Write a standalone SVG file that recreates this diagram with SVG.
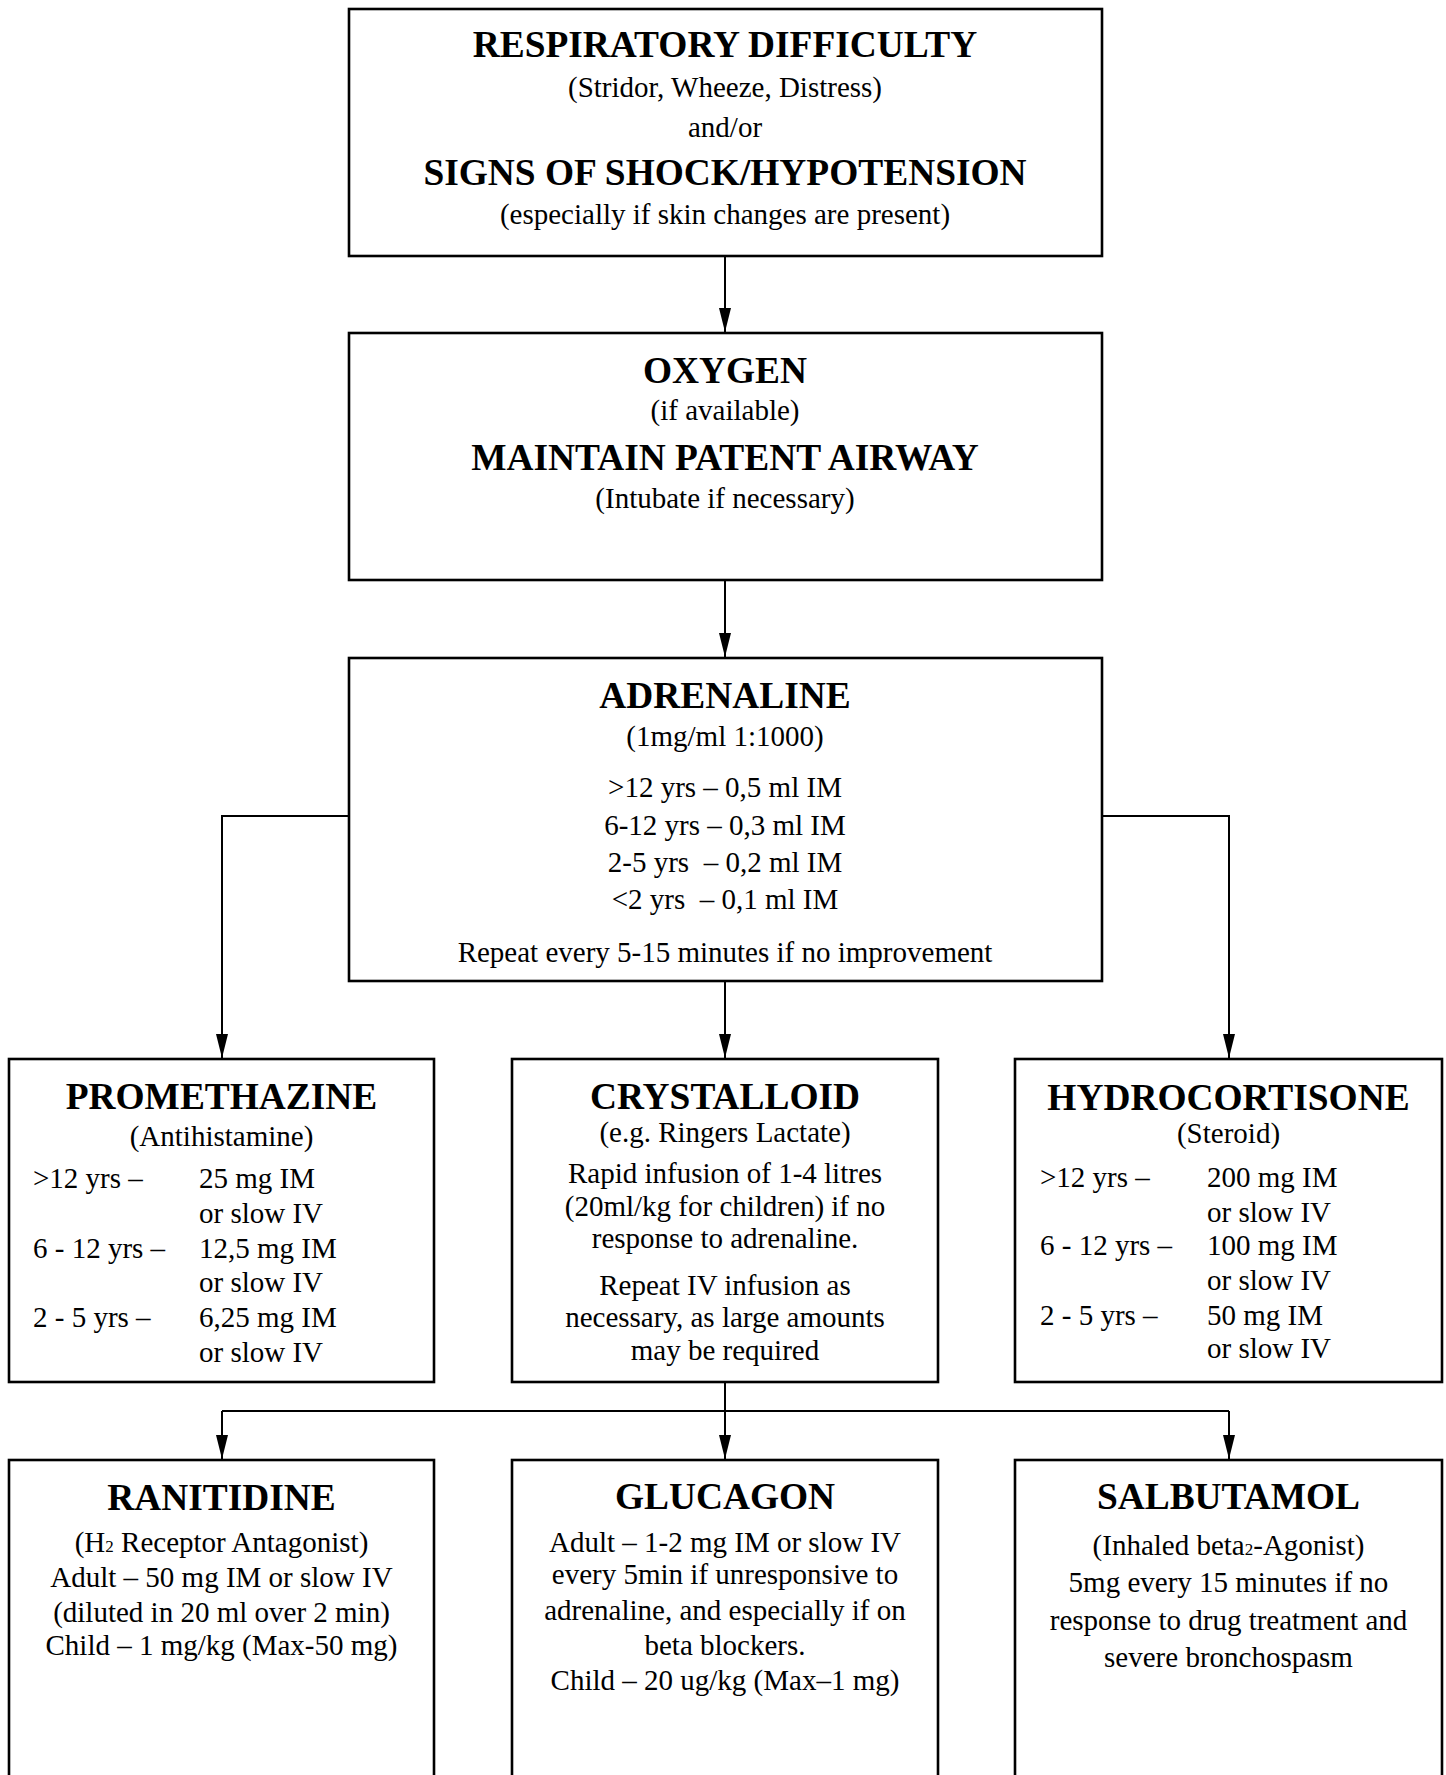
<svg xmlns="http://www.w3.org/2000/svg" width="1446" height="1775" viewBox="0 0 1446 1775">
<style>
.box{fill:#fff;stroke:#000;stroke-width:2.6}
.t{font-family:"Liberation Serif","Times New Roman",serif;font-size:37.4px;font-weight:bold;text-anchor:middle;fill:#000}
.b{font-family:"Liberation Serif","Times New Roman",serif;font-size:29px;fill:#000}
.c{text-anchor:middle}
.conn{fill:none;stroke:#000;stroke-width:2}
.sub{font-size:17px}
</style>
<defs>
<marker id="arr" markerUnits="userSpaceOnUse" viewBox="0 -6 24 12" refX="24" refY="0" markerWidth="24" markerHeight="12" orient="auto">
<path d="M0,-6 L24,0 L0,6 Z" fill="#000"/>
</marker>
</defs>
<rect width="1446" height="1775" fill="#fff"/>
<g id="connectors">
<path class="conn" d="M725,256 V332" marker-end="url(#arr)"/>
<path class="conn" d="M725,580 V657" marker-end="url(#arr)"/>
<path class="conn" d="M349,816 H222 V1058" marker-end="url(#arr)"/>
<path class="conn" d="M725,981 V1058" marker-end="url(#arr)"/>
<path class="conn" d="M1102,816 H1229 V1058" marker-end="url(#arr)"/>
<path class="conn" d="M725,1382 V1459" marker-end="url(#arr)"/>
<path class="conn" d="M222,1411 H1229"/>
<path class="conn" d="M222,1411 V1459" marker-end="url(#arr)"/>
<path class="conn" d="M1229,1411 V1459" marker-end="url(#arr)"/>
</g>
<g id="respiratory">
<rect class="box" x="349" y="9" width="753" height="247"/>
<text class="t" x="725" y="57">RESPIRATORY DIFFICULTY</text>
<text class="b c" x="725" y="97">(Stridor, Wheeze, Distress)</text>
<text class="b c" x="725" y="137">and/or</text>
<text class="t" x="725" y="185">SIGNS OF SHOCK/HYPOTENSION</text>
<text class="b c" x="725" y="224">(especially if skin changes are present)</text>
</g>
<g id="oxygen">
<rect class="box" x="349" y="333" width="753" height="247"/>
<text class="t" x="725" y="383">OXYGEN</text>
<text class="b c" x="725" y="420">(if available)</text>
<text class="t" x="725" y="470">MAINTAIN PATENT AIRWAY</text>
<text class="b c" x="725" y="508">(Intubate if necessary)</text>
</g>
<g id="adrenaline">
<rect class="box" x="349" y="658" width="753" height="323"/>
<text class="t" x="725" y="708">ADRENALINE</text>
<text class="b c" x="725" y="746">(1mg/ml 1:1000)</text>
<text class="b c" x="725" y="797">&gt;12 yrs – 0,5 ml IM</text>
<text class="b c" x="725" y="835">6-12 yrs – 0,3 ml IM</text>
<text class="b c" x="725" y="872" xml:space="preserve">2-5 yrs  – 0,2 ml IM</text>
<text class="b c" x="725" y="909" xml:space="preserve">&lt;2 yrs  – 0,1 ml IM</text>
<text class="b c" x="725" y="962">Repeat every 5-15 minutes if no improvement</text>
</g>
<g id="promethazine">
<rect class="box" x="9" y="1059" width="425" height="323"/>
<text class="t" x="221.5" y="1109">PROMETHAZINE</text>
<text class="b c" x="221.5" y="1146">(Antihistamine)</text>
<text class="b" x="33" y="1188">&gt;12 yrs –</text>
<text class="b" x="199" y="1188">25 mg IM</text>
<text class="b" x="199" y="1223">or slow IV</text>
<text class="b" x="33" y="1258">6 - 12 yrs –</text>
<text class="b" x="199" y="1258">12,5 mg IM</text>
<text class="b" x="199" y="1292">or slow IV</text>
<text class="b" x="33" y="1327">2 - 5 yrs –</text>
<text class="b" x="199" y="1327">6,25 mg IM</text>
<text class="b" x="199" y="1362">or slow IV</text>
</g>
<g id="crystalloid">
<rect class="box" x="512" y="1059" width="426" height="323"/>
<text class="t" x="725" y="1109">CRYSTALLOID</text>
<text class="b c" x="725" y="1142">(e.g. Ringers Lactate)</text>
<text class="b c" x="725" y="1183">Rapid infusion of 1-4 litres</text>
<text class="b c" x="725" y="1216">(20ml/kg for children) if no</text>
<text class="b c" x="725" y="1248">response to adrenaline.</text>
<text class="b c" x="725" y="1295">Repeat IV infusion as</text>
<text class="b c" x="725" y="1327">necessary, as large amounts</text>
<text class="b c" x="725" y="1360">may be required</text>
</g>
<g id="hydrocortisone">
<rect class="box" x="1015" y="1059" width="427" height="323"/>
<text class="t" x="1228.5" y="1110">HYDROCORTISONE</text>
<text class="b c" x="1228.5" y="1143">(Steroid)</text>
<text class="b" x="1040" y="1187">&gt;12 yrs –</text>
<text class="b" x="1207" y="1187">200 mg IM</text>
<text class="b" x="1207" y="1222">or slow IV</text>
<text class="b" x="1040" y="1255">6 - 12 yrs –</text>
<text class="b" x="1207" y="1255">100 mg IM</text>
<text class="b" x="1207" y="1290">or slow IV</text>
<text class="b" x="1040" y="1325">2 - 5 yrs –</text>
<text class="b" x="1207" y="1325">50 mg IM</text>
<text class="b" x="1207" y="1358">or slow IV</text>
</g>
<g id="ranitidine">
<rect class="box" x="9" y="1460" width="425" height="400"/>
<text class="t" x="221.5" y="1510">RANITIDINE</text>
<text class="b c" x="221.5" y="1552">(H<tspan class="sub">2</tspan> Receptor Antagonist)</text>
<text class="b c" x="221.5" y="1587">Adult – 50 mg IM or slow IV</text>
<text class="b c" x="221.5" y="1622">(diluted in 20 ml over 2 min)</text>
<text class="b c" x="221.5" y="1655">Child – 1 mg/kg (Max-50 mg)</text>
</g>
<g id="glucagon">
<rect class="box" x="512" y="1460" width="426" height="400"/>
<text class="t" x="725" y="1509">GLUCAGON</text>
<text class="b c" x="725" y="1552">Adult – 1-2 mg IM or slow IV</text>
<text class="b c" x="725" y="1584">every 5min if unresponsive to</text>
<text class="b c" x="725" y="1620">adrenaline, and especially if on</text>
<text class="b c" x="725" y="1655">beta blockers.</text>
<text class="b c" x="725" y="1690">Child – 20 ug/kg (Max–1 mg)</text>
</g>
<g id="salbutamol">
<rect class="box" x="1015" y="1460" width="427" height="400"/>
<text class="t" x="1228.5" y="1509">SALBUTAMOL</text>
<text class="b c" x="1228.5" y="1555">(Inhaled beta<tspan class="sub">2</tspan>-Agonist)</text>
<text class="b c" x="1228.5" y="1592">5mg every 15 minutes if no</text>
<text class="b c" x="1228.5" y="1630">response to drug treatment and</text>
<text class="b c" x="1228.5" y="1667">severe bronchospasm</text>
</g>
</svg>
